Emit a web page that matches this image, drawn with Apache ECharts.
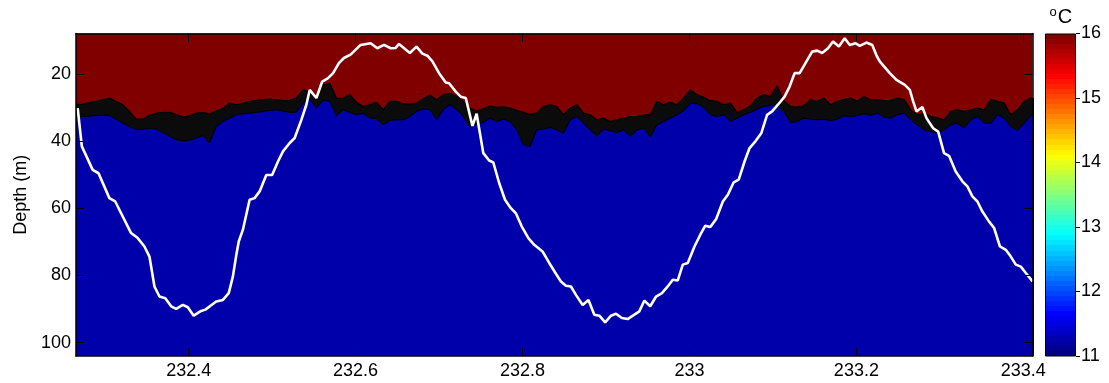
<!DOCTYPE html>
<html><head><meta charset="utf-8">
<script src="https://cdn.jsdelivr.net/npm/echarts@6/dist/echarts.min.js"></script>
<style>html,body{margin:0;padding:0;background:#fff}#c{width:1109px;height:383px}</style>
</head><body><div id="c"></div>
<script>
// Sample times (days) of the thermocline band edges
const gridTime = [
232.265,232.273,232.281,232.289,232.297,232.305,232.313,232.321,232.329,232.337,232.345,232.353,232.361,232.369,232.377,232.385,232.393,232.401,232.409,232.417,232.425,232.433,232.441,232.449,
232.457,232.465,232.473,232.481,232.489,232.497,232.505,232.513,232.521,232.529,232.537,232.545,232.553,232.561,232.569,232.577,232.585,232.593,232.601,232.609,232.617,232.625,232.633,232.641,
232.649,232.657,232.665,232.673,232.681,232.689,232.697,232.705,232.713,232.721,232.729,232.737,232.745,232.753,232.761,232.769,232.777,232.785,232.793,232.801,232.809,232.817,232.825,232.833,
232.841,232.849,232.857,232.865,232.873,232.881,232.889,232.897,232.905,232.913,232.921,232.929,232.937,232.945,232.953,232.961,232.969,232.977,232.985,232.993,233.001,233.009,233.017,233.025,
233.033,233.041,233.049,233.057,233.065,233.073,233.081,233.089,233.097,233.105,233.113,233.121,233.129,233.137,233.145,233.153,233.161,233.169,233.177,233.185,233.193,233.201,233.209,233.217,
233.225,233.233,233.241,233.249,233.257,233.265,233.273,233.281,233.289,233.297,233.305,233.313,233.321,233.329,233.337,233.345,233.353,233.361,233.369,233.377,233.385,233.393,233.401,233.409,
233.417];
// Depth (m) of the warm (16 C) edge of the contour band
const upperDepth = [
29.2,29.0,28.6,28.2,27.7,27.2,28.2,29.2,31.2,33.5,33.5,32.3,31.8,31.5,31.5,32.1,32.9,32.5,31.7,31.5,32.0,31.0,30.3,28.7,
29.2,28.7,28.2,27.9,27.7,27.5,27.7,28.0,27.9,27.2,24.8,25.3,26.7,23.3,22.8,27.2,27.3,26.2,28.5,29.7,29.2,28.5,30.7,28.2,
28.2,28.9,29.0,28.7,27.4,26.3,27.7,26.2,25.8,26.7,28.2,30.2,31.1,30.4,29.5,30.0,29.8,30.2,30.9,31.5,32.1,31.7,29.7,29.2,
29.7,32.2,30.2,29.2,31.7,32.2,33.7,33.2,34.2,33.7,33.2,32.7,32.7,32.2,32.2,28.2,29.2,28.4,29.2,27.2,24.8,26.2,27.0,28.0,
28.2,29.2,28.7,31.5,30.7,29.5,27.2,26.2,26.7,23.6,28.0,29.7,29.9,29.5,27.7,28.2,27.2,29.2,28.2,27.7,27.2,28.2,26.7,27.7,
27.7,28.0,27.9,27.2,27.7,30.7,32.2,31.7,32.7,33.1,33.7,31.2,30.7,31.2,30.7,30.2,30.7,27.7,28.2,28.7,32.2,30.7,28.2,27.2,
27.7];
// Depth (m) of the cold (11 C) edge of the contour band
const lowerDepth = [
32.9,32.7,32.6,32.4,32.3,32.4,33.5,34.7,35.7,36.5,36.5,36.2,36.5,37.5,38.6,39.6,40.0,39.8,39.1,38.4,40.6,35.7,34.2,33.2,
32.2,31.9,31.7,31.5,31.2,30.9,30.7,31.1,31.5,31.4,28.7,27.5,30.2,27.9,28.2,32.5,30.7,31.5,32.2,31.8,33.2,33.3,35.2,33.9,
33.7,33.7,32.7,31.2,30.5,30.7,33.7,30.7,29.2,30.7,32.7,35.8,34.9,34.5,33.2,34.2,33.5,34.2,36.7,41.1,41.6,36.7,36.4,36.0,
36.7,37.7,33.7,32.7,34.7,36.7,38.6,36.5,36.9,37.5,36.7,38.6,36.7,36.2,38.8,35.2,34.2,33.2,32.2,31.0,28.7,28.9,30.0,32.2,
32.7,32.2,34.2,33.2,32.2,31.5,30.5,29.7,29.5,29.3,31.2,34.5,34.2,33.2,33.5,33.7,33.5,34.0,33.5,32.5,32.7,32.5,31.9,32.4,
31.7,32.9,33.2,32.2,31.7,33.7,35.2,36.7,37.2,37.6,36.7,35.2,34.7,36.2,33.7,32.7,34.7,34.7,32.2,33.2,35.7,36.9,34.7,32.5,
32.0];
// White line (isotherm / displacement) times and depths
const lineTime = [
232.267,232.272,232.285,232.292,232.305,232.312,232.331,232.339,232.347,232.353,232.359,232.365,232.372,232.379,232.385,232.393,232.399,232.406,232.414,232.420,232.433,232.441,232.448,232.453,232.457,232.460,232.465,232.473,232.479,232.485,232.493,232.500,232.507,232.513,232.521,232.527,232.535,232.541,232.545,232.553,232.560,232.567,232.573,232.580,232.586,232.594,232.606,232.618,232.626,232.634,232.642,232.648,232.652,232.665,232.673,232.680,232.686,232.692,232.700,232.708,232.712,232.720,232.726,232.732,232.740,232.745,232.753,232.760,232.765,232.772,232.779,232.786,232.792,232.799,232.807,232.814,232.824,232.832,232.840,232.846,232.852,232.858,232.864,232.872,232.879,232.886,232.892,232.899,232.906,232.912,232.919,232.926,232.934,232.940,232.946,232.953,232.960,232.967,232.974,232.980,232.986,232.992,232.998,233.006,233.013,233.019,233.025,233.032,233.040,233.046,233.053,233.059,233.066,233.072,233.079,233.086,233.093,233.099,233.106,233.114,233.120,233.126,233.132,233.139,233.147,233.153,233.159,233.166,233.172,233.179,233.186,233.192,233.199,233.204,233.212,233.219,233.224,233.228,233.240,233.248,233.258,233.264,233.268,233.272,233.279,233.284,233.292,233.298,233.305,233.311,233.319,233.327,233.333,233.339,233.345,233.351,233.359,233.365,233.372,233.379,233.385,233.391,233.397,233.403,233.411];
const lineDepth = [
30.2,41.6,48.6,49.6,57.0,58.0,67.4,68.9,71.4,74.4,83.3,86.3,86.8,89.2,90.0,88.8,89.5,92.0,90.7,90.2,87.8,87.3,85.3,80.3,74.0,69.9,66.4,57.5,57.0,55.0,50.1,50.1,46.1,43.1,40.6,39.1,33.7,29.2,24.8,27.2,22.3,21.3,19.8,16.8,15.3,14.3,11.4,10.9,12.4,11.4,12.4,12.3,11.1,13.8,11.9,14.0,14.6,16.3,19.8,22.6,22.8,25.3,26.8,27.2,35.5,31.9,43.6,45.8,46.4,52.5,57.5,60.0,61.5,65.4,68.9,70.9,72.9,76.3,79.5,81.8,83.1,83.3,85.8,88.8,87.3,91.7,92.0,94.0,92.0,91.4,92.7,93.0,91.7,90.7,87.5,89.2,86.3,85.3,83.3,81.3,81.5,76.8,76.3,71.4,67.9,65.2,65.6,63.2,58.0,56.0,52.3,51.5,46.1,42.1,40.1,37.7,32.2,31.2,29.2,26.8,23.8,19.8,19.8,16.8,13.4,13.1,13.8,12.4,10.4,11.9,9.4,11.4,10.9,11.7,10.7,11.4,14.5,16.3,19.8,21.8,23.3,24.8,28.2,31.2,29.9,33.2,36.2,37.2,43.6,44.4,49.1,52.0,53.5,56.5,58.0,61.0,64.0,65.9,71.4,72.4,74.4,76.8,77.4,79.3,81.8];
const xTicks = [232.4, 232.6, 232.8, 233, 233.2, 233.4];
const yTicks = [20, 40, 60, 80, 100];
const cbMin = 11, cbMax = 16;

const FONT = 'Liberation Sans, Arial, Helvetica, sans-serif';
function clamp(v){return Math.max(0, Math.min(1, v));}
function jet(t){
  const r = clamp(Math.min(4*t-1.5, -4*t+4.5));
  const g = clamp(Math.min(4*t-0.5, -4*t+3.5));
  const b = clamp(Math.min(4*t+0.5, -4*t+2.5));
  return 'rgb(' + Math.round(r*255) + ',' + Math.round(g*255) + ',' + Math.round(b*255) + ')';
}
const stops = [];
const N = 64;
for (let j = 0; j < N; j++) {
  const c = jet((N-1-j)/(N-1));
  stops.push({offset: j/N, color: c});
  stops.push({offset: (j+1)/N, color: c});
}

const pair = (xs, ys) => xs.map((x, i) => [x, ys[i]]);
const chart = echarts.init(document.getElementById('c'), null, {renderer: 'canvas'});
const axisText = {color: '#000', fontSize: 18, fontFamily: FONT};
chart.setOption({
  animation: false,
  grid: [
    {left: 76, right: 76.5, top: 33.5, bottom: 27, show: true, backgroundColor: '#800000', borderWidth: 0},
    {left: 1045, width: 31, top: 33.5, bottom: 27}
  ],
  xAxis: [
    {type: 'value', gridIndex: 0, min: 232.265, max: 233.411, position: 'bottom', z: 10,
     axisLine: {show: true, lineStyle: {color: '#000', width: 1.5}},
     axisTick: {show: true, inside: true, length: 8, customValues: xTicks, lineStyle: {color: '#000', width: 1}},
     axisLabel: {show: true, margin: 6, customValues: xTicks, ...axisText},
     splitLine: {show: false}},
    {type: 'value', gridIndex: 0, min: 232.265, max: 233.411, position: 'top', z: 10,
     axisLine: {show: true, lineStyle: {color: '#000', width: 1.5}},
     axisTick: {show: true, inside: true, length: 8, customValues: xTicks, lineStyle: {color: '#000', width: 1}},
     axisLabel: {show: false}, splitLine: {show: false}},
    {type: 'category', gridIndex: 1, data: ['c'], show: false, boundaryGap: true}
  ],
  yAxis: [
    {type: 'value', gridIndex: 0, min: 8, max: 104, inverse: true, position: 'left', z: 10,
     name: 'Depth (m)', nameLocation: 'middle', nameGap: 45, nameRotate: 90,
     nameTextStyle: {color: '#000', fontSize: 18, fontFamily: FONT},
     axisLine: {show: true, lineStyle: {color: '#000', width: 1.5}},
     axisTick: {show: true, inside: true, length: 8, customValues: yTicks, lineStyle: {color: '#000', width: 1}},
     axisLabel: {show: true, margin: 5, customValues: yTicks, ...axisText},
     splitLine: {show: false}},
    {type: 'value', gridIndex: 0, min: 8, max: 104, inverse: true, position: 'right', z: 10,
     axisLine: {show: true, lineStyle: {color: '#000', width: 1.5}},
     axisTick: {show: true, inside: true, length: 8, customValues: yTicks, lineStyle: {color: '#000', width: 1}},
     axisLabel: {show: false}, splitLine: {show: false}},
    {type: 'value', gridIndex: 1, min: cbMin, max: cbMax, interval: 1, position: 'right', z: 10,
     axisLine: {show: false},
     axisTick: {show: true, inside: false, length: 4, lineStyle: {color: '#000', width: 1}},
     axisLabel: {show: true, margin: 5, ...axisText},
     splitLine: {show: false}}
  ],
  graphic: [
    {type: 'text', x: 1053, y: 12, style: {text: 'o', fontSize: 13, fontFamily: FONT, fill: '#000', textAlign: 'center', textVerticalAlign: 'middle'}},
    {type: 'text', x: 1065, y: 17, style: {text: 'C', fontSize: 20, fontFamily: FONT, fill: '#000', textAlign: 'center', textVerticalAlign: 'middle'}}
  ],
  series: [
    {type: 'line', xAxisIndex: 0, yAxisIndex: 0, data: pair(gridTime, upperDepth), showSymbol: false, symbol: 'none',
     lineStyle: {color: '#000', width: 1.2}, areaStyle: {origin: 'end', color: '#0b0b0b', opacity: 1}, z: 2},
    {type: 'line', xAxisIndex: 0, yAxisIndex: 0, data: pair(gridTime, lowerDepth), showSymbol: false, symbol: 'none',
     lineStyle: {color: '#000', width: 1}, areaStyle: {origin: 'end', color: '#0000AA', opacity: 1}, z: 3},
    {type: 'line', xAxisIndex: 0, yAxisIndex: 0, data: pair(lineTime, lineDepth), showSymbol: false, symbol: 'none',
     lineStyle: {color: '#fff', width: 2.6}, z: 4},
    {type: 'bar', xAxisIndex: 2, yAxisIndex: 2, data: [cbMax], barWidth: '100%',
     itemStyle: {borderColor: '#000', borderWidth: 1,
       color: new echarts.graphic.LinearGradient(0, 0, 0, 1, stops)}, z: 2}
  ]
});
</script>
</body></html>
